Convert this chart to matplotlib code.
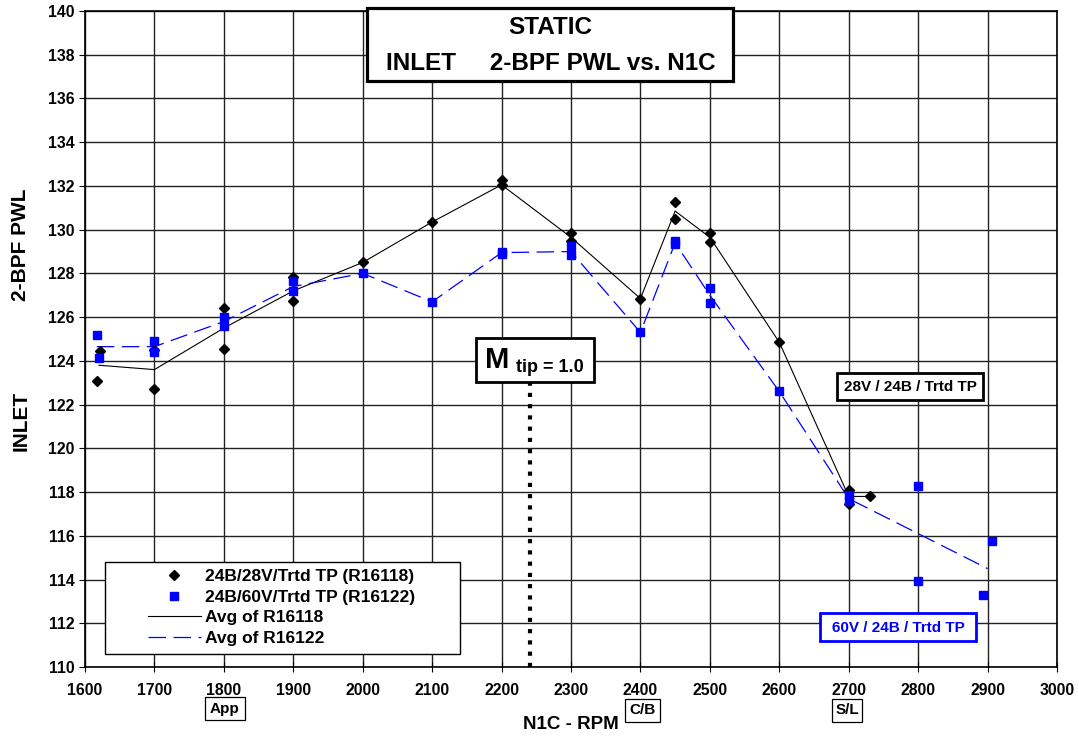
import matplotlib
matplotlib.use("Agg")
import matplotlib.pyplot as plt
from matplotlib.patches import Rectangle
from matplotlib.lines import Line2D

plt.rcParams['font.family'] = ['Liberation Sans', 'DejaVu Sans']
plt.rcParams['font.weight'] = 'bold'

# 24B/28V/Trtd TP (R16118) - individual points
rpm_118 = [1622, 1617, 1700, 1700, 1800, 1800, 1900, 1900, 2000, 2100, 2200, 2200,
           2300, 2300, 2400, 2450, 2450, 2500, 2500, 2600, 2700, 2700, 2730]
pwl_118 = [124.45, 123.1, 122.7, 124.5, 126.4, 124.55, 127.85, 126.75, 128.5, 130.35, 132.25, 132.05,
           129.85, 129.5, 126.85, 131.25, 130.5, 129.85, 129.45, 124.85, 118.1, 117.45, 117.8]

# 24B/60V/Trtd TP (R16122) - individual points
rpm_122 = [1617, 1620, 1700, 1700, 1800, 1800, 1900, 1900, 2000, 2100, 2200, 2200, 2300,
           2300, 2400, 2450, 2450, 2500, 2500, 2600, 2700, 2700, 2800, 2800, 2906, 2893]
pwl_122 = [125.2, 124.15, 124.9, 124.4, 126.0, 125.6, 127.65, 127.2, 128.0, 126.7, 129.0, 128.9, 129.25,
           128.85, 125.3, 129.5, 129.35, 127.35, 126.65, 122.6, 117.85, 117.6, 118.3, 113.95, 115.75, 113.3]

# averages
avg_rpm_118 = [1620, 1700, 1800, 1900, 2000, 2100, 2200, 2300, 2400, 2450, 2500, 2600, 2700, 2730]
avg_pwl_118 = [123.8, 123.6, 125.5, 127.2, 128.5, 130.35, 132.05, 129.65, 126.85, 130.85, 129.65, 124.85, 117.8, 117.8]
avg_rpm_122 = [1617, 1700, 1800, 1900, 2000, 2100, 2200, 2300, 2400, 2450, 2500, 2600, 2700, 2800, 2900]
avg_pwl_122 = [124.65, 124.65, 125.8, 127.4, 128.0, 126.7, 128.95, 129.0, 125.3, 129.4, 127.0, 122.6, 117.7, 116.1, 114.5]

mtip_rpm = 2241

W, H = 1079, 738
fig = plt.figure(figsize=(W / 100, H / 100), dpi=100)
ax = fig.add_axes([85 / W, 1 - 667 / H, 972 / W, 656 / H])

def fx(px):
    return px / W

def fy(py):
    return 1 - py / H

# Plot
ax.plot(avg_rpm_118, avg_pwl_118, color='black', lw=0.8, zorder=3)
ax.plot(avg_rpm_122, avg_pwl_122, color='#0000FF', lw=0.9, dashes=(14, 6), zorder=3)
ax.plot(rpm_118, pwl_118, ls='none', marker='D', ms=5.2, color='black', zorder=4)
ax.plot(rpm_122, pwl_122, ls='none', marker='s', ms=6.2, color='#0000FF', zorder=4)
ax.plot([mtip_rpm, mtip_rpm], [110, 123.0], color='black', lw=3, dashes=(1, 1.7), zorder=5)

ax.set_xlim(1600, 3000)
ax.set_ylim(110, 140)
ax.set_xticks(range(1600, 3001, 100))
ax.set_yticks(range(110, 141, 2))
ax.grid(True, color='#222222', lw=1.0)
ax.set_axisbelow(True)
for s in ax.spines.values():
    s.set_linewidth(1.2)
ax.tick_params(axis='x', direction='inout', length=7, labelsize=11.3, pad=8)
ax.tick_params(axis='y', direction='out', length=4, labelsize=11.3)
for lab in ax.get_xticklabels() + ax.get_yticklabels():
    lab.set_fontweight('bold')

ax.set_xlabel('N1C - RPM', fontsize=13.5, fontweight='bold')
ax.xaxis.set_label_coords(0.5, -0.074)
fig.text(fx(21), fy(421), 'INLET', rotation=90, fontsize=15,
         fontweight='bold', ha='center', va='center')
fig.text(fx(21), fy(245), '2-BPF PWL', rotation=90, fontsize=15,
         fontweight='bold', ha='center', va='center')

def box(x0, y0, x1, y1, color='black', lw=1.5, face='white'):
    fig.patches.append(Rectangle((fx(x0), fy(y1)), fx(x1) - fx(x0), fy(y0) - fy(y1),
                                 transform=fig.transFigure, facecolor=face,
                                 edgecolor=color, lw=lw, zorder=2))

# title box
box(367, 8, 733, 81, lw=2.3)
fig.text(fx(550), fy(27), 'STATIC', fontsize=17.5, fontweight='bold', ha='center', va='center', zorder=3)
fig.text(fx(551), fy(63), 'INLET     2-BPF PWL vs. N1C', fontsize=17.5, fontweight='bold',
         ha='center', va='center', zorder=3)

# Mtip box
box(476, 338, 594, 382, lw=2)
fig.text(fx(485), fy(360), 'M', fontsize=21, fontweight='bold', ha='left', va='center', zorder=3)
fig.text(fx(516), fy(367), 'tip = 1.0', fontsize=13, fontweight='bold', ha='left', va='center', zorder=3)

# series label boxes
box(837, 373, 983, 400, lw=2)
fig.text(fx(910), fy(386.5), '28V / 24B / Trtd TP', fontsize=11, fontweight='bold',
         ha='center', va='center', zorder=3)
box(820, 613, 976, 641, color='#0000FF', lw=2)
fig.text(fx(898), fy(627.5), '60V / 24B / Trtd TP', fontsize=11, fontweight='bold',
         color='#0000FF', ha='center', va='center', zorder=3)

# condition boxes under x axis
for (x0, y0, x1, y1, t) in [(205, 697, 245, 720, 'App'), (625, 699, 660, 722, 'C/B'),
                            (832, 699, 862, 722, 'S/L')]:
    box(x0, y0, x1, y1, lw=0.9)
    fig.text(fx((x0 + x1) / 2), fy((y0 + y1) / 2), t, fontsize=11, fontweight='bold',
             ha='center', va='center', zorder=3)

# legend
box(105, 562, 460, 654, lw=1.0)
handles = [Line2D([], [], ls='none', marker='D', ms=5, color='black'),
           Line2D([], [], ls='none', marker='s', ms=5.5, color='#0000FF'),
           Line2D([], [], color='black', lw=0.8),
           Line2D([], [], color='#0000FF', lw=0.9, dashes=(14, 6))]
labels = ['24B/28V/Trtd TP (R16118)', '24B/60V/Trtd TP (R16122)', 'Avg of R16118', 'Avg of R16122']
leg = fig.legend(handles, labels, loc='upper left', bbox_to_anchor=(fx(148), fy(569)),
                 frameon=False, fontsize=12.5, handlelength=3.05, handletextpad=0.23,
                 labelspacing=0.31, borderpad=0, borderaxespad=0)
for t in leg.get_texts():
    t.set_fontweight('bold')
leg.set_zorder(5)

fig.savefig('out.png', dpi=100)
